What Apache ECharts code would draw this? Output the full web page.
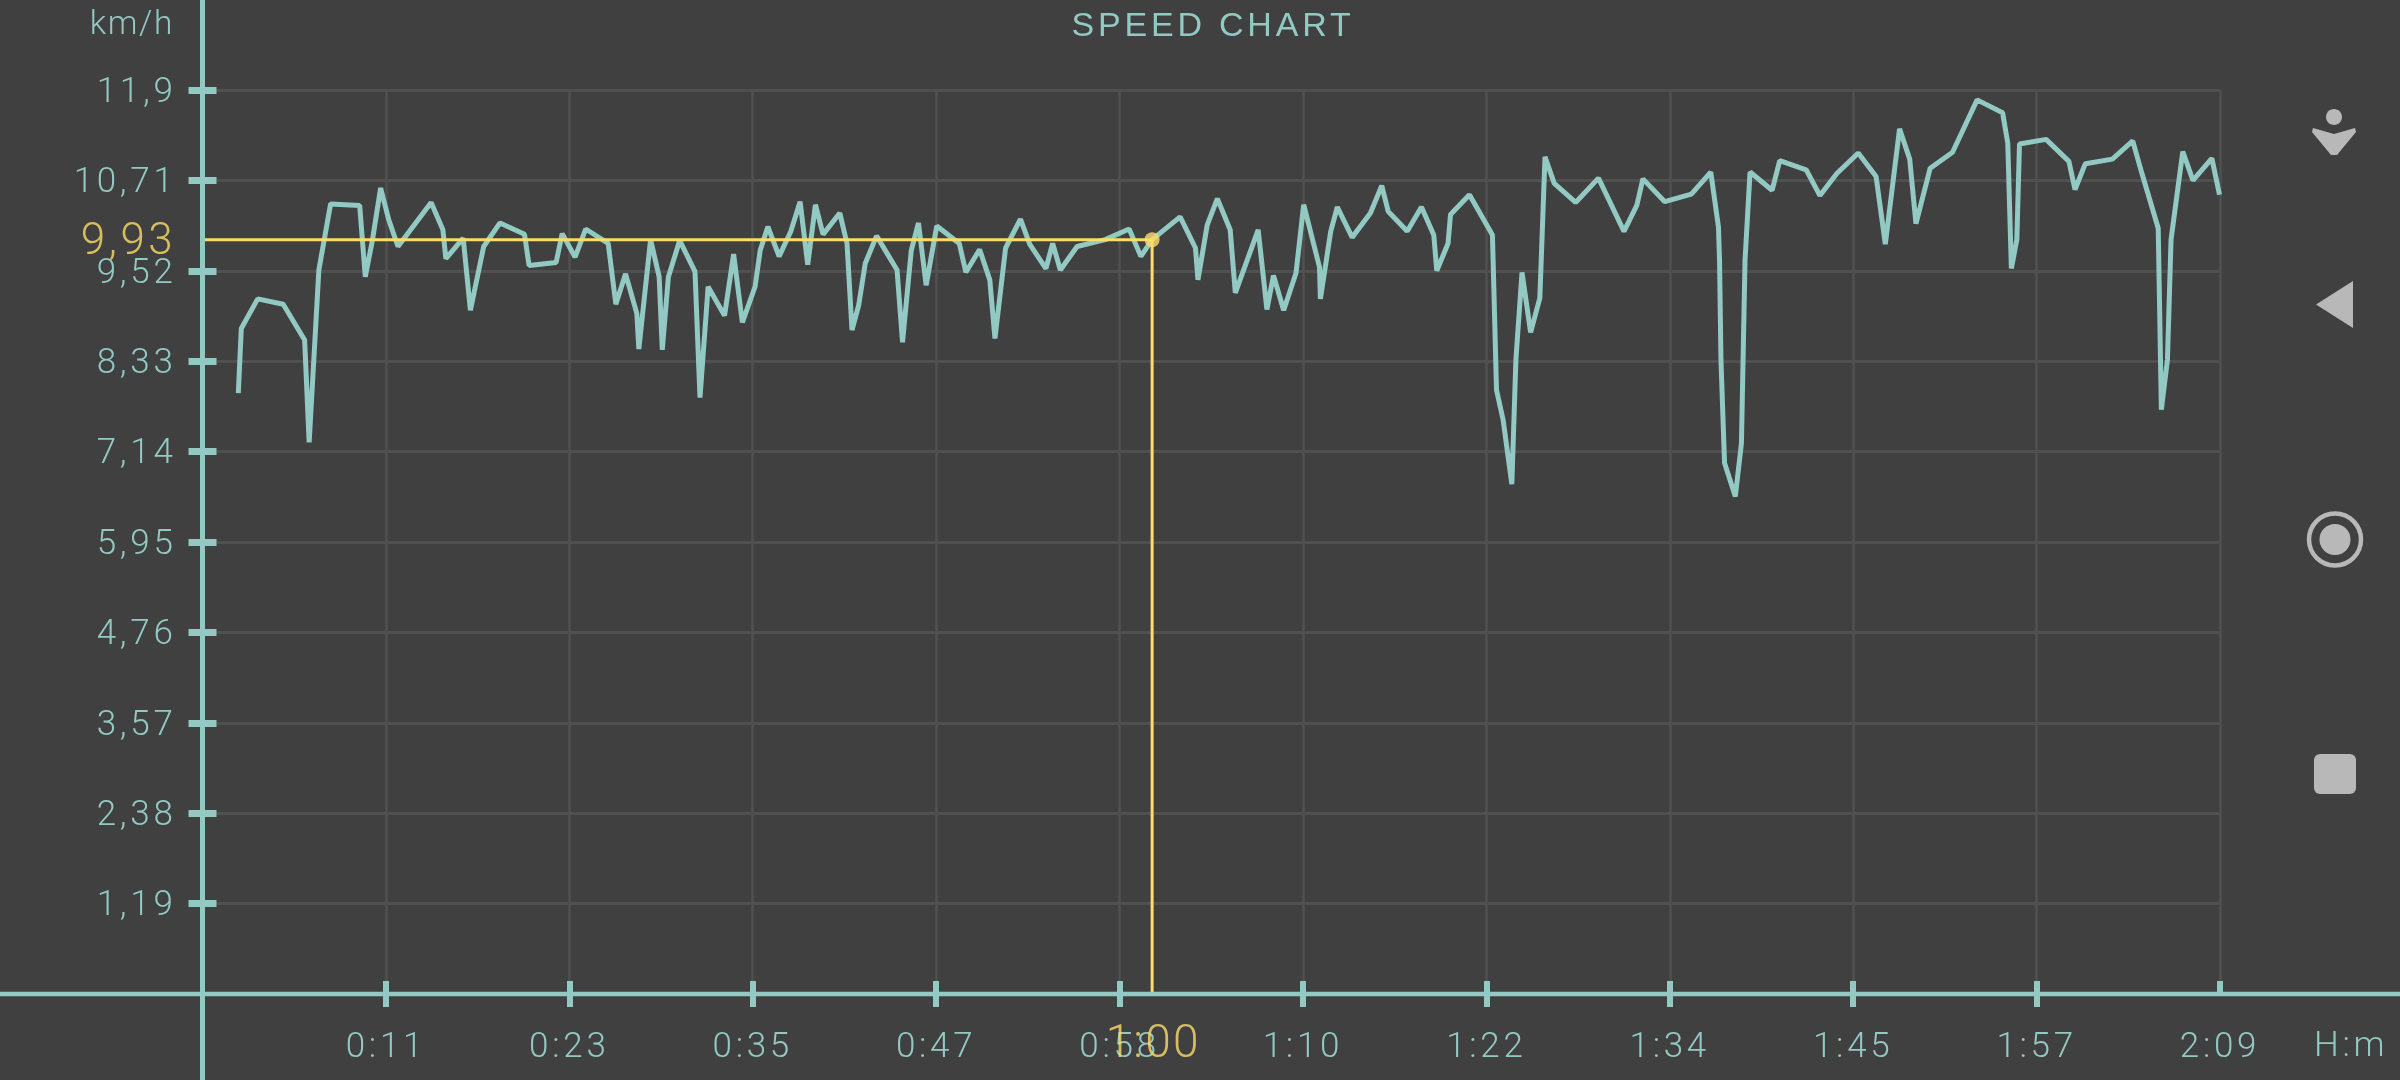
<!DOCTYPE html>
<html><head><meta charset="utf-8">
<style>html,body{margin:0;padding:0;background:#404040}#c{width:2400px;height:1080px}</style>
<script src="https://cdn.jsdelivr.net/npm/echarts@6/dist/echarts.min.js"></script>
</head><body><div id="c"></div>
<script>
const minutes=[2.29,2.48,3.53,5.16,6.53,6.82,7.44,8.19,10.05,10.41,10.87,11.39,11.91,12.50,14.62,15.37,15.56,16.67,17.13,17.98,19.02,20.59,20.88,22.61,23.00,23.82,24.50,25.94,26.43,27.05,27.77,27.90,28.65,29.20,29.40,29.79,30.51,31.49,31.81,32.33,33.38,33.96,34.52,35.33,35.66,36.15,36.87,37.62,38.21,38.70,39.19,39.68,40.75,41.21,41.53,41.96,42.38,43.10,44.41,44.76,45.32,45.78,46.27,46.95,48.39,48.81,49.69,50.34,50.67,51.35,52.30,52.89,53.93,54.36,54.85,55.92,57.72,59.25,60.00,60.72,62.51,63.49,63.65,64.24,64.89,65.71,66.04,67.50,68.06,68.48,69.13,69.92,70.41,71.42,71.48,72.14,72.56,73.51,74.68,75.40,75.82,77.03,77.94,78.73,78.92,79.64,79.80,81.01,82.48,82.74,83.16,83.72,83.98,84.37,84.92,85.51,85.84,86.43,87.80,89.26,90.89,91.71,92.10,93.50,95.20,96.44,96.93,97.00,97.09,97.32,98.01,98.40,98.63,98.95,100.36,100.85,102.54,103.42,104.50,105.87,107.01,107.60,108.51,109.16,109.56,110.47,111.90,113.47,115.10,115.43,115.66,116.01,116.18,117.88,119.34,119.73,120.39,122.12,123.42,124.01,125.05,125.25,125.64,125.87,126.62,127.27,128.48,128.97];
const speed=[7.91,8.76,9.15,9.08,8.61,7.26,9.53,10.40,10.38,9.44,9.93,10.61,10.19,9.84,10.42,10.06,9.68,9.95,9.00,9.84,10.15,10.00,9.59,9.63,10.01,9.70,10.07,9.88,9.08,9.48,8.96,8.49,9.93,9.44,8.48,9.44,9.92,9.51,7.85,9.31,8.93,9.74,8.84,9.31,9.79,10.10,9.71,10.04,10.43,9.60,10.39,10.00,10.28,9.88,8.74,9.07,9.62,9.98,9.53,8.58,9.79,10.15,9.33,10.11,9.88,9.50,9.80,9.40,8.63,9.82,10.20,9.87,9.55,9.88,9.53,9.84,9.93,10.07,9.71,9.93,10.23,9.82,9.40,10.12,10.47,10.06,9.23,10.06,9.01,9.46,9.00,9.49,10.39,9.57,9.15,10.04,10.36,9.96,10.28,10.64,10.30,10.04,10.36,9.99,9.52,9.88,10.26,10.52,9.99,7.95,7.56,6.71,8.35,9.50,8.71,9.16,11.02,10.67,10.42,10.74,10.04,10.38,10.73,10.43,10.53,10.82,10.10,9.66,8.35,6.99,6.55,7.25,9.66,10.82,10.58,10.97,10.85,10.51,10.80,11.07,10.76,9.87,11.39,10.99,10.14,10.87,11.08,11.77,11.60,11.20,9.55,9.93,11.19,11.25,10.96,10.59,10.93,10.99,11.23,10.80,10.08,7.69,8.35,9.93,11.09,10.71,11.00,10.52];
const yTickLabels=['1,19','2,38','3,57','4,76','5,95','7,14','8,33','9,52','10,71','11,9'];
const xTickLabels=['0:11','0:23','0:35','0:47','0:58','1:10','1:22','1:34','1:45','1:57','2:09'];
const cursorMinute=60.72, cursorSpeed=9.93, cursorSpeedLabel='9,93', cursorTimeLabel='1:00';
const yMax=11.9, yStep=1.19, xMax=129, xStep=129/11;

// The reference text is tracked out; the canvas has a letterSpacing property for this.
const spacingBySize={34:3.8,33.5:1.6,35:3.7,44:3.4,46:2.2};
const fontDesc=Object.getOwnPropertyDescriptor(CanvasRenderingContext2D.prototype,'font');
Object.defineProperty(CanvasRenderingContext2D.prototype,'font',{
 get(){return fontDesc.get.call(this);},
 set(v){fontDesc.set.call(this,v);
  const m=/([\d.]+)px/.exec(v), s=m?parseFloat(m[1]):0;
  this.letterSpacing=(spacingBySize[s]||0)+'px';}
});

const TEAL='#92c9c3', YEL='#fbdc68', BG='#404040', GRID='#505050', ICON='#b8b8b8';
const FONT='Roboto', W=300, TICK=35;
const tickIdx=(v,s)=>Math.round(v/s);
const yTickValues=yTickLabels.map((_,i)=>(i+1)*yStep);
const xTickValues=xTickLabels.map((_,i)=>(i+1)*xStep);
const chart=echarts.init(document.getElementById('c'),null,{renderer:'canvas'});
const hiddenAxis={axisLine:{show:false},axisLabel:{show:false},splitLine:{show:false}};
chart.setOption({
 animation:false,backgroundColor:BG,
 title:{text:'SPEED CHART',left:1208,top:3,textAlign:'center',
  textStyle:{color:TEAL,fontFamily:'Liberation Sans',fontWeight:400,fontSize:34}},
 grid:{left:202.5,right:180,top:90,bottom:86},
 xAxis:[
  {type:'value',min:0,max:xMax,interval:xStep,
   axisLine:{show:false},
   axisTick:{show:true,length:13,customValues:xTickValues,lineStyle:{color:TEAL,width:6}},
   splitLine:{show:true,lineStyle:{color:GRID,width:2.5}},
   axisLabel:{show:true,margin:35,color:TEAL,fontFamily:FONT,fontWeight:W,fontSize:TICK,
     showMinLabel:false,
     formatter:v=>{const i=tickIdx(v,xStep);return i>0?xTickLabels[i-1]:'';}}},
  {type:'value',min:0,max:xMax,interval:xStep,position:'bottom',...hiddenAxis,
   axisTick:{show:true,inside:true,length:13,customValues:xTickValues,lineStyle:{color:TEAL,width:6}}}
 ],
 yAxis:[
  {type:'value',min:0,max:yMax,interval:yStep,
   axisLine:{show:false},
   axisTick:{show:true,length:14,customValues:yTickValues,lineStyle:{color:TEAL,width:7}},
   splitLine:{show:true,lineStyle:{color:GRID,width:3}},
   axisLabel:{show:true,margin:26,verticalAlign:'top',lineHeight:6,color:TEAL,fontFamily:FONT,fontWeight:W,fontSize:TICK,
     formatter:v=>{const i=tickIdx(v,yStep);return i>0?yTickLabels[i-1]:'';}}},
  {type:'value',min:0,max:yMax,interval:yStep,position:'left',...hiddenAxis,
   axisTick:{show:true,inside:true,length:14,customValues:yTickValues,lineStyle:{color:TEAL,width:7}}}
 ],
 series:[
  {name:'speed',type:'line',showSymbol:false,smooth:false,z:3,
   lineStyle:{color:TEAL,width:5,join:'bevel'},
   data:minutes.map((m,i)=>[m,speed[i]])},
  {name:'cursor',type:'line',showSymbol:false,z:4,clip:false,
   lineStyle:{color:YEL,width:3},
   data:[[0,cursorSpeed],[cursorMinute,cursorSpeed],[cursorMinute,0]]},
  {name:'cursorMarks',type:'scatter',z:5,clip:false,symbol:'circle',
   itemStyle:{color:YEL},
   data:[
    {value:[cursorMinute,cursorSpeed],symbolSize:15},
    {value:[0,cursorSpeed],symbolSize:1,label:{show:true,position:'left',distance:26,offset:[0,3],formatter:cursorSpeedLabel,color:YEL,fontFamily:FONT,fontWeight:W,fontSize:44}},
    {value:[cursorMinute,0],symbolSize:1,label:{show:true,position:'bottom',distance:27,offset:[1,0],formatter:cursorTimeLabel,color:YEL,fontFamily:FONT,fontWeight:W,fontSize:46}}
   ]}
 ],
 graphic:[
  {type:'line',z:50,shape:{x1:0,y1:994,x2:2400,y2:994},style:{stroke:TEAL,lineWidth:4.5}},
  {type:'line',z:50,shape:{x1:202.5,y1:0,x2:202.5,y2:1080},style:{stroke:TEAL,lineWidth:5}},
  {type:'text',z:50,style:{text:'km/h',x:174,y:26,textAlign:'right',textVerticalAlign:'middle',fill:TEAL,font:'300 33.5px '+FONT}},
  {type:'text',z:50,style:{text:'H:m',x:2314,y:1047,textAlign:'left',textVerticalAlign:'middle',fill:TEAL,font:'300 35px '+FONT}},
  {type:'ellipse',z:50,shape:{cx:2334,cy:117,rx:8,ry:8},style:{fill:ICON}},
  {type:'polygon',z:50,shape:{points:[[2313,128],[2334,134],[2355,128],[2356,132],[2337,155],[2331,155],[2312,132]]},style:{fill:ICON}},
  {type:'polygon',z:50,shape:{points:[[2316,304.5],[2353,281],[2353,328]]},style:{fill:ICON}},
  {type:'circle',z:50,shape:{cx:2335,cy:539.5,r:26},style:{fill:'none',stroke:ICON,lineWidth:4.5}},
  {type:'circle',z:50,shape:{cx:2335,cy:539.5,r:15.5},style:{fill:ICON}},
  {type:'rect',z:50,shape:{x:2314,y:754,width:42,height:40,r:6},style:{fill:ICON}}
 ]
});
</script></body></html>
